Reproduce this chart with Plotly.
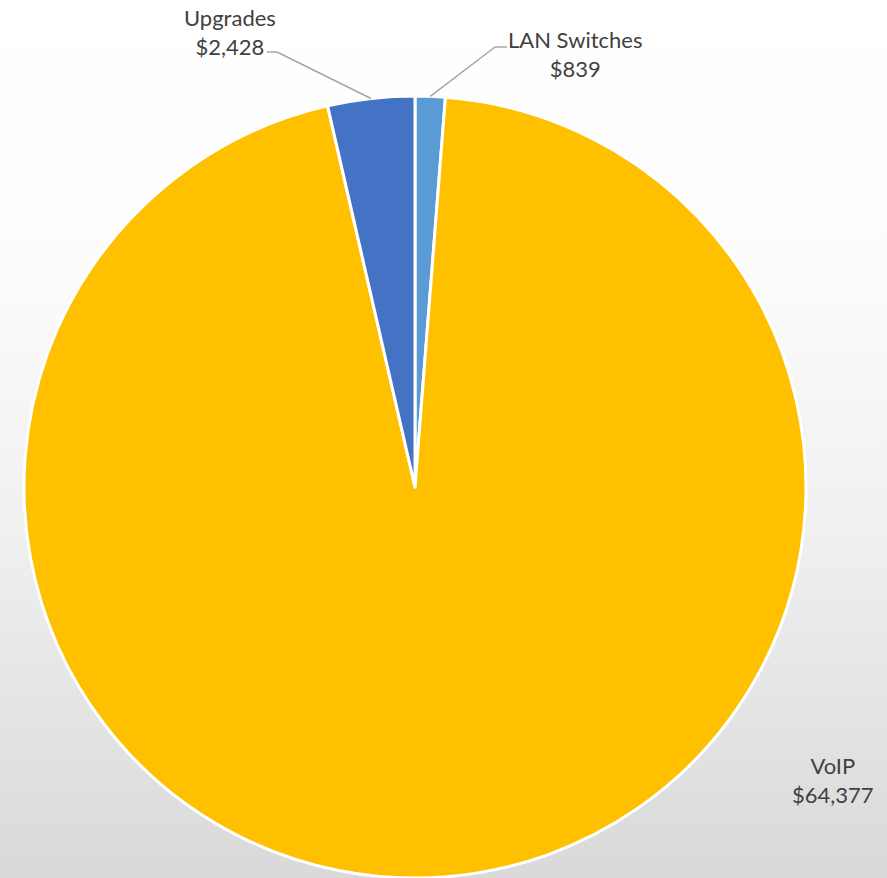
import math
import base64
import plotly.graph_objects as go

# ---- data ----
categories = ["LAN Switches", "VoIP", "Upgrades"]
values = [839, 64377, 2428]
colors = ["#5B9BD5", "#FFC000", "#4472C4"]

W, H = 887, 878
# pie geometry (pixels)
cx, cy, R = 415, 487, 391

dom_x = [(cx - R) / W, (cx + R) / W]
dom_y = [max(0.0, 1 - (cy + R) / H), min(1.0, 1 - (cy - R) / H)]

fig = go.Figure()
fig.add_trace(go.Pie(
    labels=categories,
    values=values,
    sort=False,
    direction="clockwise",
    rotation=0,
    marker=dict(colors=colors, line=dict(color="white", width=3)),
    textinfo="none",
    hoverinfo="label+value",
    showlegend=False,
    domain=dict(x=dom_x, y=dom_y),
))

# background gradient via SVG image
svg = (
    '<svg xmlns="http://www.w3.org/2000/svg" width="100" height="100" preserveAspectRatio="none">'
    '<defs><linearGradient id="g" x1="0" y1="0" x2="0" y2="1">'
    '<stop offset="0" stop-color="#ffffff"/>'
    '<stop offset="0.3" stop-color="#fcfcfc"/>'
    '<stop offset="0.6" stop-color="#f0f0f0"/>'
    '<stop offset="1" stop-color="#d9d9d9"/>'
    '</linearGradient></defs>'
    '<rect width="100" height="100" fill="url(#g)"/></svg>'
)
uri = "data:image/svg+xml;base64," + base64.b64encode(svg.encode()).decode()

total = sum(values)


def edge_point(idx):
    start = sum(values[:idx]) / total * 360
    mid = start + values[idx] / total * 360 / 2
    a = math.radians(mid)
    px = cx + R * math.sin(a)
    py = cy - R * math.cos(a)
    return px / W, 1 - py / H


def fmt(v):
    return "${:,}".format(v)


font = dict(family="Lato, Carlito, sans-serif", size=22, color="#404040")
line_style = dict(color="#A6A6A6", width=1.5)

# label layout positions (pixels)
label_pos = {
    "LAN Switches": dict(x=575, y=54, elbow=(495, 47), start=(507, 47)),
    "Upgrades": dict(x=230, y=32, elbow=(277, 52), start=(267, 52)),
    "VoIP": dict(x=833, y=780, elbow=None, start=None),
}

annotations = []
shapes = []
for i, c in enumerate(categories):
    p = label_pos[c]
    annotations.append(dict(
        x=p["x"] / W, y=1 - p["y"] / H, xref="paper", yref="paper",
        text=f"{c}<br>{fmt(values[i])}", showarrow=False, font=font,
        align="center", xanchor="center", yanchor="middle",
    ))
    if p["elbow"] is not None:
        ex, ey = edge_point(i)
        sx, sy = p["start"]
        bx, by = p["elbow"]
        shapes.append(dict(type="line", xref="paper", yref="paper",
                           x0=sx / W, y0=1 - sy / H, x1=bx / W, y1=1 - by / H,
                           line=line_style))
        shapes.append(dict(type="line", xref="paper", yref="paper",
                           x0=bx / W, y0=1 - by / H, x1=ex, y1=ey,
                           line=line_style))

fig.update_layout(
    width=W, height=H,
    margin=dict(l=0, r=0, t=0, b=0),
    paper_bgcolor="rgba(0,0,0,0)",
    plot_bgcolor="rgba(0,0,0,0)",
    images=[dict(source=uri, xref="paper", yref="paper", x=0, y=1,
                 sizex=1, sizey=1, sizing="stretch", layer="below",
                 xanchor="left", yanchor="top")],
    annotations=annotations,
    shapes=shapes,
)

fig.write_html(
    "out.html",
    config={"displayModeBar": False},
    post_script="document.body.style.margin='0';document.body.style.overflow='hidden';",
)
